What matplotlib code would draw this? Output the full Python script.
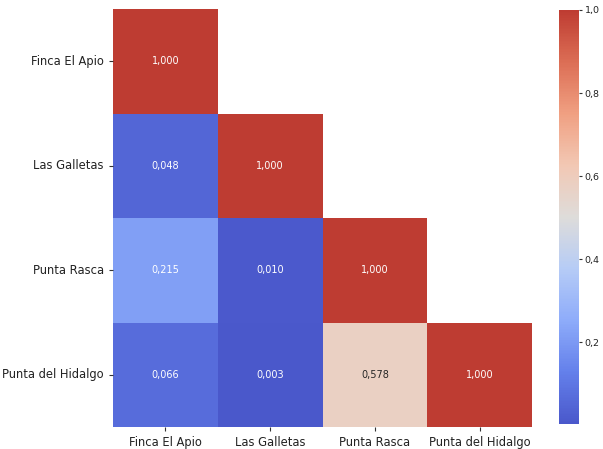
import numpy as np
import matplotlib
matplotlib.use("Agg")
import matplotlib.pyplot as plt
import seaborn as sns
from matplotlib.colors import LinearSegmentedColormap
from matplotlib.ticker import FuncFormatter

# station names and correlation values (lower triangle)
names = ["Finca El Apio", "Las Galletas", "Punta Rasca", "Punta del Hidalgo"]
row0 = [1.000, np.nan, np.nan, np.nan]
row1 = [0.048, 1.000, np.nan, np.nan]
row2 = [0.215, 0.010, 1.000, np.nan]
row3 = [0.066, 0.003, 0.578, 1.000]

data = np.array([row0, row1, row2, row3])
mask = np.isnan(data)
labels = np.array([["" if np.isnan(v) else f"{v:.3f}".replace(".", ",") for v in r] for r in data])

# softened coolwarm, as in the picture
anchors = [(74, 88, 203), (100, 128, 235), (142, 172, 250), (182, 204, 246),
           (222, 220, 218), (242, 200, 180), (240, 160, 130), (220, 110, 85),
           (190, 60, 50)]
cmap = LinearSegmentedColormap.from_list("soft_cw", [tuple(c / 255 for c in a) for a in anchors])

fig = plt.figure(figsize=(6.03, 4.49), dpi=100)
ax = fig.add_axes([113/603, 1 - 427/449, 419/603, 418/449])
cax = fig.add_axes([558.5/603, 1 - 424/449, 21/603, 414/449])

sns.heatmap(data, mask=mask, cmap=cmap, annot=labels, fmt="",
            annot_kws={"fontsize": 7}, ax=ax, cbar_ax=cax,
            xticklabels=names, yticklabels=names)

ax.tick_params(axis="both", labelsize=8.3, length=3, width=0.8,
               colors="#333333", labelcolor="#222222")
plt.setp(ax.get_yticklabels(), rotation=0)
plt.setp(ax.get_xticklabels(), rotation=0)

cax.yaxis.set_major_formatter(FuncFormatter(lambda v, p: f"{v:.1f}".replace(".", ",")))
cax.set_yticks([0.2, 0.4, 0.6, 0.8, 1.0])
cax.tick_params(labelsize=6.8, length=2.5, pad=1.2, colors="#333333", labelcolor="#222222")
for s in cax.spines.values():
    s.set_visible(False)

fig.savefig("out.png", dpi=100)
